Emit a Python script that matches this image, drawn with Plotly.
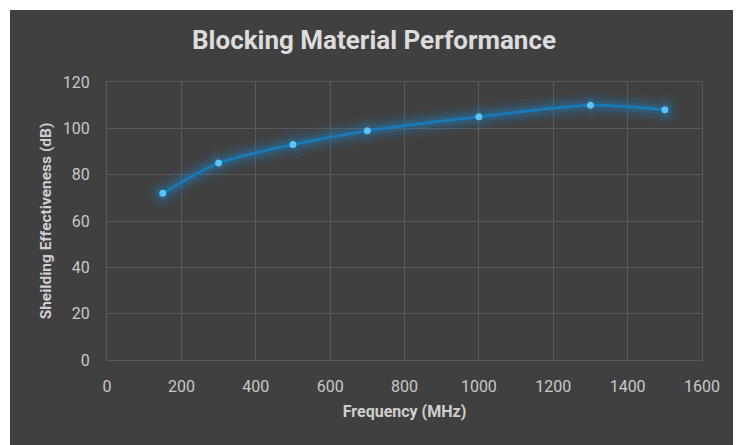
import plotly.graph_objects as go

freq = [150, 300, 500, 700, 1000, 1300, 1500]
shielding = [72, 85, 93, 99, 105, 110, 108]
x_ticks = [0, 200, 400, 600, 800, 1000, 1200, 1400, 1600]
y_ticks = [0, 20, 40, 60, 80, 100, 120]

# page has an 8px body margin, so the figure is sized/offset to compensate
W, H = 733, 437
L, R, T, B = 99, 39, 74, 85
pw, ph = W - L - R, H - T - B

def px2x(px):
    return (px - L) / pw

def py2y(py):
    return (H - B - py) / ph

fig = go.Figure()
# glow layers
for w, op in [(26, 0.07), (17, 0.11), (10, 0.2)]:
    fig.add_trace(go.Scatter(x=freq, y=shielding, mode="lines+markers",
                             line=dict(color="#1e88d0", width=w, shape="spline", smoothing=0.8),
                             marker=dict(color="#1e88d0", size=w + 4),
                             opacity=op, hoverinfo="skip", showlegend=False))
fig.add_trace(go.Scatter(x=freq, y=shielding, mode="lines+markers",
                         line=dict(color="#1a78b6", width=3, shape="spline", smoothing=0.8),
                         marker=dict(color="#5cc3f7", size=7),
                         showlegend=False))

fig.add_shape(type="rect", xref="paper", yref="paper",
              x0=px2x(2), x1=px2x(729), y0=py2y(440), y1=py2y(2),
              fillcolor="#404040", line=dict(width=0), layer="below")

font_family = "Roboto"
fig.update_layout(
    width=W, height=H,
    margin=dict(l=L, r=R, t=T, b=B),
    paper_bgcolor="white",
    plot_bgcolor="#404040",
    font=dict(family=font_family, color="#c8c8c8", size=16),
    title=dict(text="<b>Blocking Material Performance</b>", x=366 / W, xanchor="center",
               y=1 - 32 / H, yanchor="middle",
               font=dict(family=font_family, size=26, color="#dcdcdc")),
    xaxis=dict(range=[0, 1600], tickvals=x_ticks, ticktext=[str(v) for v in x_ticks],
               showgrid=True, gridcolor="#5a5a5a", gridwidth=1, zeroline=False,
               showline=True, linecolor="#5a5a5a", mirror=True,
               ticks="", ticklabelstandoff=12,
               tickfont=dict(size=16, color="#c8c8c8"),
               title=dict(text="<b>Frequency (MHz)</b>", standoff=10,
                          font=dict(size=16, color="#cfcfcf"))),
    yaxis=dict(range=[0, 120], tickvals=y_ticks, ticktext=[str(v) for v in y_ticks],
               showgrid=True, gridcolor="#5a5a5a", gridwidth=1, zeroline=False,
               showline=True, linecolor="#5a5a5a", mirror=True,
               ticks="", ticklabelstandoff=13,
               tickfont=dict(size=16, color="#c8c8c8"),
               title=dict(text="<b>Sheilding Effectiveness (dB)</b>", standoff=7,
                          font=dict(size=15.5, color="#cfcfcf"))),
)

fig.write_html("out.html")
